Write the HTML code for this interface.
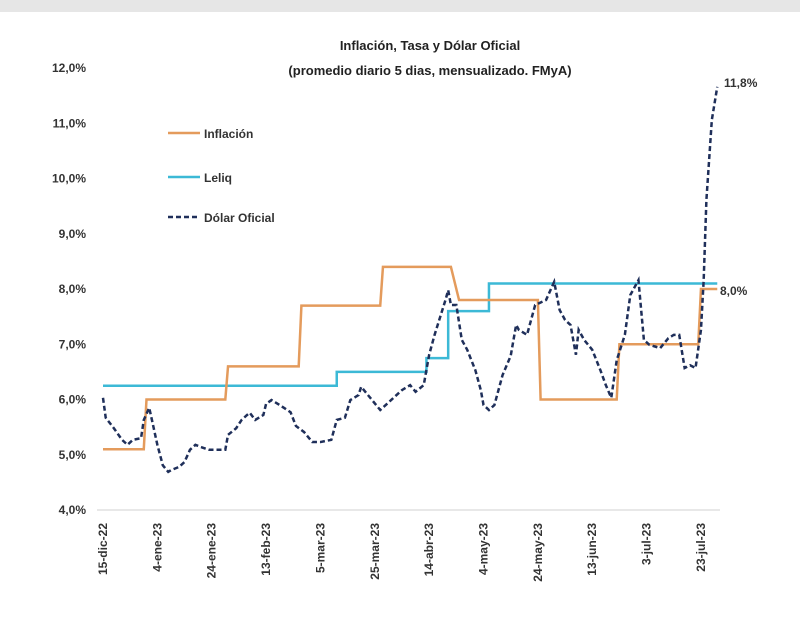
<!DOCTYPE html>
<html><head><meta charset="utf-8"><style>
body{margin:0;background:#fff;width:800px;height:618px;overflow:hidden;font-family:"Liberation Sans",sans-serif}
</style></head><body>
<svg id="c" width="800" height="618" xmlns="http://www.w3.org/2000/svg">
<rect x="0" y="0" width="800" height="12" fill="#e6e6e6"/>
<text x="430" y="50" text-anchor="middle" font-size="13" font-weight="bold" fill="#222">Inflación, Tasa y Dólar Oficial</text>
<text x="430" y="75" text-anchor="middle" font-size="13" font-weight="bold" fill="#222">(promedio diario 5 dias, mensualizado. FMyA)</text>
<g id="axes"></g><g id="series"></g>
<g>
<line x1="168" y1="133" x2="200" y2="133" stroke="#e49b5c" stroke-width="2.5"/>
<text x="204" y="138" font-size="12" font-weight="bold" fill="#333">Inflación</text>
<line x1="168" y1="177" x2="200" y2="177" stroke="#3cb9d6" stroke-width="2.5"/>
<text x="204" y="182" font-size="12" font-weight="bold" fill="#333">Leliq</text>
<line x1="168" y1="217" x2="200" y2="217" stroke="#1f2f5a" stroke-width="2.5" stroke-dasharray="5,3"/>
<text x="204" y="222" font-size="12" font-weight="bold" fill="#333">Dólar Oficial</text>
</g>
<text x="724" y="87" font-size="12" font-weight="bold" fill="#333">11,8%</text>
<text x="720" y="295" font-size="12" font-weight="bold" fill="#333">8,0%</text>
</svg>
<script>
const yTicks=[4,5,6,7,8,9,10,11,12];
const xLabels=["15-dic-22","4-ene-23","24-ene-23","13-feb-23","5-mar-23","25-mar-23","14-abr-23","4-may-23","24-may-23","13-jun-23","3-jul-23","23-jul-23"];
const infDays=[0,15,16,45,46,72,73,102,103,128,131,160,161,189,190,219,220,226];
const infVals=[5.1,5.1,6.0,6.0,6.6,6.6,7.7,7.7,8.4,8.4,7.8,7.8,6.0,6.0,7.0,7.0,8.0,8.0];
const leliqDays=[0,86,86,119,119,127,127,142,142,226];
const leliqVals=[6.25,6.25,6.5,6.5,6.75,6.75,7.6,7.6,8.1,8.1];
const usdDays=[0,1,4,7,9,11,14,15,17,18,20,22,24,25,28,30,32,34,36,39,45,46,49,51,53,54,56,59,60,62,65,69,71,74,77,80,84,86,89,91,94,95,98,102,106,110,113,115,118,120,122,126,127,128,130,132,134,137,139,140,142,144,147,150,152,153,156,159,163,166,168,170,172,174,175,177,180,183,185,187,189,192,194,197,199,201,205,208,210,212,214,216,218,220,221,222,224,226];
const usdVals=[6.03,5.67,5.48,5.27,5.18,5.27,5.3,5.63,5.85,5.63,5.18,4.81,4.69,4.72,4.78,4.87,5.09,5.18,5.14,5.09,5.09,5.36,5.48,5.63,5.72,5.76,5.63,5.72,5.92,5.99,5.9,5.77,5.52,5.41,5.23,5.23,5.27,5.63,5.67,5.99,6.08,6.23,6.05,5.81,5.99,6.17,6.26,6.14,6.26,6.81,7.17,7.8,7.98,7.71,7.71,7.08,6.9,6.53,6.17,5.9,5.81,5.9,6.44,6.79,7.35,7.26,7.17,7.71,7.8,8.13,7.62,7.44,7.35,6.81,7.26,7.08,6.9,6.53,6.26,6.03,6.71,7.17,7.89,8.16,7.08,6.99,6.93,7.11,7.17,7.17,6.57,6.62,6.57,7.26,8.16,9.61,11.06,11.66];
const NS="http://www.w3.org/2000/svg";
const x=d=>103+d*2.718, y=v=>68+(12-v)*55.25;
const ax=document.getElementById('axes'), se=document.getElementById('series');
function mk(tag,at,parent){const e=document.createElementNS(NS,tag);for(const k in at)e.setAttribute(k,at[k]);parent.appendChild(e);return e;}
yTicks.forEach(v=>{const t=mk('text',{x:86,y:y(v)+4,'text-anchor':'end','font-size':12,'font-weight':'bold',fill:'#333'},ax);t.textContent=v.toFixed(1).replace('.',',')+'%';

});
const bl=mk('line',{x1:97,y1:y(4),x2:720,y2:y(4),stroke:'#d0d0d0'},ax);


xLabels.forEach((l,i)=>{const px=x(i*20)+4;const t=mk('text',{x:0,y:0,transform:`translate(${px},523) rotate(-90)`,'text-anchor':'end','font-size':12,'font-weight':'bold',fill:'#333'},ax);t.textContent=l;

});
function line(ds,vs,st,name){const p=mk('polyline',Object.assign({points:ds.map((d,i)=>x(d)+','+y(vs[i])).join(' '),fill:'none'},st),se);

}
line(leliqDays,leliqVals,{stroke:'#3cb9d6','stroke-width':2.5},'leliq-line');
line(infDays,infVals,{stroke:'#e49b5c','stroke-width':2.5},'inflacion-line');
line(usdDays,usdVals,{stroke:'#1f2f5a','stroke-width':2.5,'stroke-dasharray':'5,3'},'dolar-line');
</script>
</body></html>
